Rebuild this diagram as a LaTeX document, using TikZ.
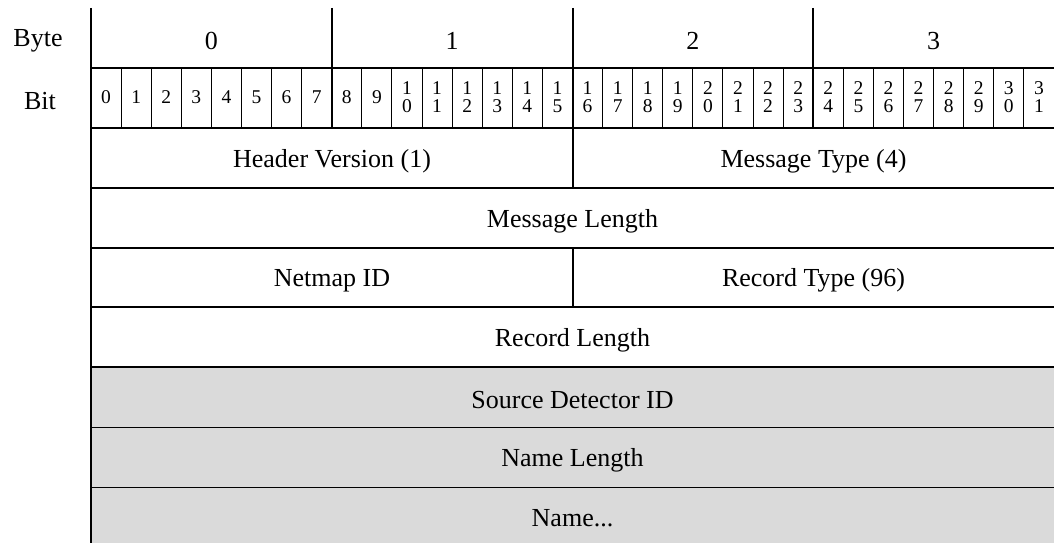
\documentclass[tikz,border=0pt]{standalone}
\usepackage{fontspec}
\setmainfont{Liberation Serif}
\usetikzlibrary{positioning}
\definecolor{cellgray}{HTML}{DADADA}
\tikzset{
  field/.style={font=\fontsize{26}{30}\selectfont, inner sep=0pt},
  bitnum/.style={font=\fontsize{19.5}{18.5}\selectfont, align=center, inner sep=0pt},
  heavy/.style={line width=2pt},
  rowline/.style={line width=1.6pt},
  light/.style={line width=1pt},
}

\begin{document}
\begin{tikzpicture}[x=1pt,y=-1pt]
        \useasboundingbox (0,0) rectangle (1054,543);
        % shaded part of the record
        \fill[cellgray] (91,367) rectangle (1054,543);
        % byte and bit rows
        \node[field] (bytelbl) at (38,41) {Byte};
        \node[field] (bitlbl) at (40,101) {Bit};
        \foreach \b in {0,...,3}
          \node[field] (byte\b) at ({91+240.75*(\b+0.5)},41) {\b};
        % routine for bit numbers
        \foreach \i in {0,...,31}{
          \pgfmathtruncatemacro\hi{int(\i/10)}
          \pgfmathtruncatemacro\lo{mod(\i,10)}
          \ifnum\i<10
            \node[bitnum] (bit\i) at ({91+30.09375*(\i+0.5)},97) {\i};
          \else
            \node[bitnum] (bit\i) at ({91+30.09375*(\i+0.5)},97) {\hi\\\lo};
          \fi
        }
        \foreach \i in {1,...,31}
          \draw[light] ({91+30.09375*\i},68) -- ({91+30.09375*\i},128);
        \foreach \b in {1,2,3}
          \draw[heavy] ({91+240.75*\b},8) -- ({91+240.75*\b},128);
        % fields
        \node[field] (hdrver) at (332,161) {Header Version (1)};
        \node[field] (msgtype) at (813.5,161) {Message Type (4)};
        \node[field] (msglen) at (572.5,221) {Message Length};
        \node[field] (netmap) at (332,280.5) {Netmap ID};
        \node[field] (rectype) at (813.5,280.5) {Record Type (96)};
        \node[field] (reclen) at (572.5,340) {Record Length};
        \node[field] (srcdet) at (572.5,400) {Source Detector ID};
        \node[field] (namelen) at (572.5,460) {Name Length};
        \node[field] (name) at (572.5,518) {Name...};
        \draw[rowline] (573,128) -- (573,188);
        \draw[rowline] (573,248) -- (573,307);
        \foreach \y in {68,128,188,248,307,367}
          \draw[rowline] (91,\y) -- (1054,\y);
        \draw[light] (91,427) -- (1054,427);
        \draw[light] (91,487) -- (1054,487);
        \draw[heavy] (91,8) -- (91,543);
      \end{tikzpicture}
\end{document}
